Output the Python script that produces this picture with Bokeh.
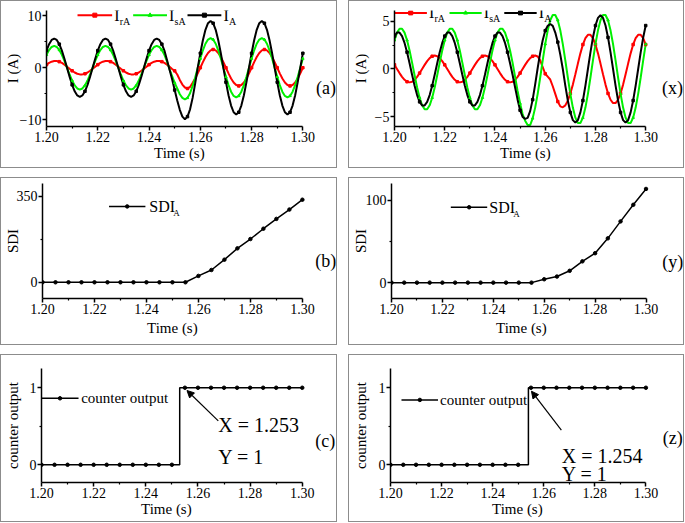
from bokeh.plotting import figure
from bokeh.models import Range1d, FixedTicker, PrintfTickFormatter, Label, Arrow, NormalHead, Title
from bokeh.layouts import column, row
from bokeh.embed import file_html
from bokeh.resources import INLINE

FONT = "Liberation Serif"
RED = "#ff0000"
GREEN = "#00f000"
BLACK = "#000000"

# ---------------- data ----------------
# 1 ms samples, 1.200 ... 1.300 s
time_ms = list(range(1200, 1301))
t_ms = [m / 1000 for m in time_ms]

# panel (a)
a_IrA = [0.59, 0.92, 1.16, 1.28, 1.28, 1.16, 0.92, 0.59, 0.20, -0.20, -0.59, -0.92, -1.16, -1.28, -1.28, -1.16, -0.92, -0.59, -0.20, 0.20,
         0.59, 0.92, 1.16, 1.28, 1.28, 1.16, 0.92, 0.59, 0.20, -0.20, -0.59, -0.92, -1.16, -1.28, -1.28, -1.16, -0.92, -0.59, -0.20, 0.20,
         0.59, 0.92, 1.16, 1.28, 1.28, 1.16, 0.92, 0.59, 0.20, -0.25, -0.6, -1.3, -2.35, -3.24, -3.8, -4.0, -3.7, -2.9, -2.06, -1.08,
         0, 1.08, 2.06, 2.83, 3.33, 3.5, 3.33, 2.83, 2.06, 1.08, 0, -1.08, -2.06, -2.83, -3.33, -3.5, -3.33, -2.83, -2.06, -1.08,
         0, 1.08, 2.06, 2.83, 3.33, 3.5, 3.33, 2.83, 2.06, 1.08, 0, -1.08, -2.06, -2.83, -3.33, -3.5, -3.33, -2.83, -2.06, -1.08,
         0]
a_IsA = [2.47, 3.40, 3.99, 4.2, 3.99, 3.40, 2.47, 1.30, 0, -1.30, -2.47, -3.40, -3.99, -4.2, -3.99, -3.40, -2.47, -1.30, 0, 1.30,
         2.47, 3.40, 3.99, 4.2, 3.99, 3.40, 2.47, 1.30, 0, -1.30, -2.47, -3.40, -3.99, -4.2, -3.99, -3.40, -2.47, -1.30, 0, 1.30,
         2.47, 3.40, 3.99, 4.2, 3.99, 3.40, 2.47, 1.2, -0.3, -1.6, -2.9, -4.0, -5.1, -5.8, -6.1, -5.8, -4.9, -3.5, -1.9, 0,
         1.76, 3.35, 4.61, 5.42, 5.7, 5.42, 4.61, 3.35, 1.76, 0, -1.76, -3.35, -4.61, -5.42, -5.7, -5.42, -4.61, -3.35, -1.76, 0,
         1.76, 3.35, 4.61, 5.42, 5.7, 5.42, 4.61, 3.35, 1.76, 0, -1.76, -3.35, -4.61, -5.42, -5.7, -5.42, -4.61, -3.35, -1.76, 0,
         1.76]
a_IA = [3.29, 4.53, 5.33, 5.6, 5.33, 4.53, 3.29, 1.73, 0, -1.73, -3.29, -4.53, -5.33, -5.6, -5.33, -4.53, -3.29, -1.73, 0, 1.73,
        3.29, 4.53, 5.33, 5.6, 5.33, 4.53, 3.29, 1.73, 0, -1.73, -3.29, -4.53, -5.33, -5.6, -5.33, -4.53, -3.29, -1.73, 0, 1.73,
        3.29, 4.53, 5.33, 5.6, 5.33, 4.53, 3.29, 1.5, -0.4, -2.2, -4.3, -6.3, -8.1, -9.4, -9.9, -9.4, -8.0, -5.8, -3.0, 0,
        2.78, 5.29, 7.28, 8.56, 9.0, 8.56, 7.28, 5.29, 2.78, 0, -2.78, -5.29, -7.28, -8.56, -9.0, -8.56, -7.28, -5.29, -2.78, 0,
        2.78, 5.29, 7.28, 8.56, 9.0, 8.56, 7.28, 5.29, 2.78, 0, -2.78, -5.29, -7.28, -8.56, -9.0, -8.56, -7.28, -5.29, -2.78, 0,
        2.78]

# panel (x)
x_IrA = [0.43, 0, -0.43, -0.82, -1.13, -1.33, -1.4, -1.33, -1.13, -0.82, -0.43, 0, 0.43, 0.82, 1.13, 1.33, 1.4, 1.33, 1.13, 0.82,
         0.43, 0, -0.43, -0.82, -1.13, -1.33, -1.4, -1.33, -1.13, -0.82, -0.43, 0, 0.43, 0.82, 1.13, 1.33, 1.4, 1.33, 1.13, 0.82,
         0.43, 0, -0.43, -0.82, -1.13, -1.33, -1.4, -1.33, -1.13, -0.82, -0.43, 0, 0.43, 0.82, 1.13, 1.33, 1.4, 1.3, 0.9, 0.2,
         -0.5, -0.8, -1.1, -1.8, -2.6, -3.4, -3.9, -4.0, -3.8, -3.3, -2.55, -1.63, -0.56, 0.56, 1.63, 2.55, 3.21, 3.56, 3.56, 3.21,
         2.55, 1.63, 0.56, -0.56, -1.63, -2.55, -3.21, -3.56, -3.56, -3.21, -2.55, -1.63, -0.56, 0.56, 1.63, 2.55, 3.21, 3.56, 3.56, 3.21,
         2.55]
x_IsA = [3.00, 3.79, 4.20, 4.20, 3.79, 3.00, 1.93, 0.66, -0.66, -1.93, -3.00, -3.79, -4.20, -4.20, -3.79, -3.00, -1.93, -0.66, 0.66, 1.93,
         3.00, 3.79, 4.20, 4.20, 3.79, 3.00, 1.93, 0.66, -0.66, -1.93, -3.00, -3.79, -4.20, -4.20, -3.79, -3.00, -1.93, -0.66, 0.66, 1.93,
         3.00, 3.79, 4.20, 4.20, 3.79, 3.00, 1.93, 0.66, -0.8, -2.3, -3.6, -4.7, -5.4, -5.85, -5.85, -5.15, -4.03, -2.59, -0.89, 0.89,
         2.59, 4.03, 5.08, 5.63, 5.63, 5.08, 4.03, 2.59, 0.89, -0.89, -2.59, -4.03, -5.08, -5.63, -5.63, -5.08, -4.03, -2.59, -0.89, 0.89,
         2.59, 4.03, 5.08, 5.63, 5.63, 5.08, 4.03, 2.59, 0.89, -0.89, -2.59, -4.03, -5.08, -5.63, -5.63, -5.08, -4.03, -2.59, -0.89, 0.89,
         2.59]
x_IA = [3.43, 3.80, 3.80, 3.43, 2.72, 1.75, 0.60, -0.60, -1.75, -2.72, -3.43, -3.80, -3.80, -3.43, -2.72, -1.75, -0.60, 0.60, 1.75, 2.72,
        3.43, 3.80, 3.80, 3.43, 2.72, 1.75, 0.60, -0.60, -1.75, -2.72, -3.43, -3.80, -3.80, -3.43, -2.72, -1.75, -0.60, 0.60, 1.75, 2.72,
        3.43, 3.80, 3.80, 3.43, 2.72, 1.75, 0.60, -0.60, -1.9, -3.2, -4.3, -5.0, -5.2, -5.1, -4.4, -3.2, -1.6, 0.1, 1.7, 3.0,
        4.0, 4.5, 4.7, 4.5, 3.8, 2.8, 1.5, 0, -1.73, -3.29, -4.53, -5.33, -5.6, -5.33, -4.53, -3.29, -1.73, 0, 1.73, 3.29,
        4.53, 5.33, 5.6, 5.33, 4.53, 3.29, 1.73, 0, -1.73, -3.29, -4.53, -5.33, -5.6, -5.33, -4.53, -3.29, -1.73, 0, 1.73, 3.29,
        4.53]

# 5 ms samples for SDI and counter
t_5ms = [1.200, 1.205, 1.210, 1.215, 1.220, 1.225, 1.230, 1.235, 1.240, 1.245, 1.250,
         1.255, 1.260, 1.265, 1.270, 1.275, 1.280, 1.285, 1.290, 1.295, 1.300]
b_SDI = [0, 0, 0, 0, 0, 0, 0, 0, 0, 0, 0, 0, 26, 50, 92, 138, 176, 218, 258, 296, 336]
y_SDI = [0, 0, 0, 0, 0, 0, 0, 0, 0, 0, 0, 0, 4.1, 7.4, 14.4, 25.9, 35.8, 53.9, 74.5, 94.7, 114]
c_counter = [0, 0, 0, 0, 0, 0, 0, 0, 0, 0, 0, 1, 1, 1, 1, 1, 1, 1, 1, 1, 1]
z_counter = [0, 0, 0, 0, 0, 0, 0, 0, 0, 0, 0, 1, 1, 1, 1, 1, 1, 1, 1, 1, 1]
c_switch = 1.253
z_switch = 1.254

x_ticks = [1.20, 1.22, 1.24, 1.26, 1.28, 1.30]
x_minor = [1.21, 1.23, 1.25, 1.27, 1.29]
T0, T1 = 1.20, 1.30
XLABEL = "Time (s)"

# ---------------- layout constants ----------------
H = 168          # outer height of every box (1px border included)
BORDER_R = 1     # frame reaches (almost) the right edge of the box
XLABEL_W = 51    # approx. width of "Time (s)" at 15px


def panel(W, left, fw, top, fh, yr, yticks, yminor, ylabel, ystand, xlab_center, xlab_standoff):
    inner_w, inner_h = W - 2, H - 2
    # the frame is widened to the right so that the panel tag fits inside it;
    # the axis itself is bounded to 1.20 .. 1.30
    x_end = T0 + (T1 - T0) * (inner_w - left - BORDER_R) / fw
    p = figure(width=W, height=H, x_range=Range1d(T0, x_end), y_range=Range1d(*yr),
               output_backend="svg", toolbar_location=None,
               min_border_left=left, min_border_right=BORDER_R,
               min_border_top=top, min_border_bottom=inner_h - top - fh,
               styles={"border": "1px solid #8c8c8c"})
    p.outline_line_color = None
    p.xgrid.visible = False
    p.ygrid.visible = False
    p.xaxis.ticker = FixedTicker(ticks=x_ticks, minor_ticks=x_minor)
    p.xaxis.formatter = PrintfTickFormatter(format="%.2f")
    p.xaxis.bounds = (T0, T1)
    p.yaxis.ticker = FixedTicker(ticks=yticks, minor_ticks=yminor)
    p.yaxis.axis_label = ylabel
    for ax in (p.xaxis[0], p.yaxis[0]):
        ax.axis_line_width = 1.5
        ax.axis_line_color = BLACK
        ax.major_tick_line_width = 1.5
        ax.minor_tick_line_width = 1.2
        ax.major_tick_line_color = BLACK
        ax.minor_tick_line_color = BLACK
        ax.major_tick_out = 4
        ax.major_tick_in = 0
        ax.minor_tick_out = 2
        ax.minor_tick_in = 0
        ax.major_label_text_font = FONT
        ax.major_label_text_font_size = "14px"
        ax.major_label_text_color = BLACK
        ax.major_label_standoff = 1
        ax.axis_label_text_font = FONT
        ax.axis_label_text_font_style = "normal"
        ax.axis_label_text_font_size = "15px"
        ax.axis_label_text_color = BLACK
    p.yaxis.axis_label_standoff = ystand
    # x-axis title, centred under the 1.20..1.30 axis (not under the widened frame)
    p.add_layout(Title(text=XLABEL, align="left", offset=xlab_center - XLABEL_W / 2,
                       vertical_align="top", standoff=xlab_standoff,
                       text_font=FONT, text_font_size="15px", text_font_style="normal",
                       text_color=BLACK), "below")
    return p


def tag(p, x, y, text):
    p.add_layout(Label(x=x, y=y, text=text, text_font=FONT, text_font_size="18px",
                       text_align="center", text_baseline="middle", text_color=BLACK))


def sub_label(p, x, y, main, sub, size="16px", sub_size="10px", dx=5.5, dy=-6):
    p.add_layout(Label(x=x, y=y, text=main, text_font=FONT, text_font_size=size,
                       text_baseline="middle", text_color=BLACK))
    p.add_layout(Label(x=x, y=y, x_offset=dx, y_offset=dy, text=sub, text_font=FONT,
                       text_font_size=sub_size, text_baseline="middle", text_color=BLACK))


def legend_entry(p, x0, x1, y, color, marker, text, sub, dx, sub_dy=-6):
    p.line([x0, x1], [y, y], line_color=color, line_width=2)
    p.scatter([(x0 + x1) / 2], [y], marker=marker, size=4, color=color)
    sub_label(p, x1 + 0.0008, y, text, sub, dx=dx, dy=sub_dy)


def wave_panel(p, red, green, black):
    p.line(t_ms, red, line_color=RED, line_width=2)
    p.line(t_ms, green, line_color=GREEN, line_width=2)
    p.line(t_ms, black, line_color=BLACK, line_width=2)
    p.scatter(t_ms[::5], red[::5], marker="square", size=2.5, color=RED)
    p.scatter(t_ms[::5], green[::5], marker="triangle", size=2.5, color=GREEN)
    p.scatter(t_ms[::5], black[::5], marker="square", size=2.5, color=BLACK)


WL, WR = 337, 336

# ---------------- (a) ----------------
pa = panel(WL, 40, 259, 9, 115, (-11.3, 11.0), [-10, 0, 10], [-5, 5], "I (A)", -4, 133, 0)
wave_panel(pa, a_IrA, a_IsA, a_IA)
legend_entry(pa, 1.2121, 1.2256, 10.1, RED, "square", "I", "rA", 5.5)
legend_entry(pa, 1.2338, 1.2470, 10.1, GREEN, "triangle", "I", "sA", 5.5)
legend_entry(pa, 1.2550, 1.2682, 10.1, BLACK, "square", "I", "A", 5.5)
tag(pa, 1.3090, -3.9, "(a)")

# ---------------- (x) ----------------
px = panel(WR, 34, 259, 9, 114, (-6.0, 6.1), [-5, 0, 5], [-2.5, 2.5], "I (A)", 3, 131, 0)
wave_panel(px, x_IrA, x_IsA, x_IA)
legend_entry(px, 1.2000, 1.2129, 5.85, RED, "square", "I", "rA", 5.5)
legend_entry(px, 1.2219, 1.2347, 5.85, GREEN, "triangle", "I", "sA", 5.5)
legend_entry(px, 1.2437, 1.2566, 5.85, BLACK, "square", "I", "A", 5.5)
tag(px, 1.3107, -2.03, "(x)")

# ---------------- (b) ----------------
pb = panel(WL, 40, 259, 5, 113, (-66, 402), [0, 350], [175], "SDI", -7, 130, 7)
pb.line(t_5ms, b_SDI, line_color=BLACK, line_width=1.5)
pb.scatter(t_5ms, b_SDI, marker="circle", size=3.5, color=BLACK)
pb.line([1.2256, 1.2396], [308.7, 308.7], line_color=BLACK, line_width=1.5)
pb.scatter([1.2326], [308.7], marker="circle", size=3.5, color=BLACK)
sub_label(pb, 1.2411, 308.7, "SDI", "A", dx=24, dy=-7, sub_size="9px")
tag(pb, 1.3090, 85.5, "(b)")

# ---------------- (y) ----------------
py = panel(WR, 36, 258, 5, 113, (-19.3, 120.6), [0, 100], [50], "SDI", -6, 130, 7)
py.line(t_5ms, y_SDI, line_color=BLACK, line_width=1.5)
py.scatter(t_5ms, y_SDI, marker="circle", size=3.5, color=BLACK)
py.line([1.2233, 1.2376], [91.7, 91.7], line_color=BLACK, line_width=1.5)
py.scatter([1.2305], [91.7], marker="circle", size=3.5, color=BLACK)
sub_label(py, 1.2384, 91.7, "SDI", "A", dx=24, dy=-7, sub_size="9px")
tag(py, 1.3105, 25.1, "(y)")


# ---------------- (c) / (z) ----------------
def counter_panel(p, counter, switch, leg, arrow, txt, tagpos, tagtext):
    n0 = counter.index(1)
    xs = t_5ms[:n0] + [switch, switch] + t_5ms[n0:]
    ys = counter[:n0] + [0, 1] + counter[n0:]
    p.line(xs, ys, line_color=BLACK, line_width=1.5)
    p.scatter(t_5ms, counter, marker="circle", size=3.5, color=BLACK)
    lx0, lx1, lxm, ly, ltx = leg
    p.line([lx0, lx1], [ly, ly], line_color=BLACK, line_width=1.5)
    p.scatter([lxm], [ly], marker="circle", size=3.5, color=BLACK)
    p.add_layout(Label(x=ltx, y=ly, text="counter output", text_font=FONT, text_font_size="15px",
                       text_baseline="middle", text_color=BLACK))
    ax0, ay0, ax1, ay1 = arrow
    p.add_layout(Arrow(end=NormalHead(size=7, line_color=BLACK, fill_color=BLACK, line_width=1),
                       x_start=ax1, y_start=ay1, x_end=ax0, y_end=ay0,
                       line_color=BLACK, line_width=1.2))
    tx, ty1, ty2 = txt
    p.add_layout(Label(x=tx, y=ty1, text="X = %.3f" % switch, text_font=FONT, text_font_size="20px",
                       text_baseline="middle", text_color=BLACK))
    p.add_layout(Label(x=tx, y=ty2, text="Y = %d" % counter[-1], text_font=FONT, text_font_size="20px",
                       text_baseline="middle", text_color=BLACK))
    tag(p, tagpos[0], tagpos[1], tagtext)


pc = panel(WL, 40, 259, 13, 112, (-0.23, 1.25), [0, 1], [0.5], "counter output", 6, 125, 1)
counter_panel(pc, c_counter, c_switch, (1.2000, 1.2142, 1.2071, 0.863, 1.2152),
              (1.2558, 0.964, 1.2678, 0.570), (1.2678, 0.517, 0.10), (1.3088, 0.307), "(c)")

pz = panel(WR, 36, 258, 13, 112, (-0.23, 1.25), [0, 1], [0.5], "counter output", 7, 127, 1)
counter_panel(pz, z_counter, z_switch, (1.2043, 1.2186, 1.2115, 0.842, 1.2194),
              (1.2552, 0.955, 1.2669, 0.451), (1.2671, 0.115, -0.118), (1.3105, 0.346), "(z)")

layout = column(row(pa, px, spacing=11), row(pb, py, spacing=11), row(pc, pz, spacing=11), spacing=9)

open("out.html", "w").write(file_html(layout, INLINE))
